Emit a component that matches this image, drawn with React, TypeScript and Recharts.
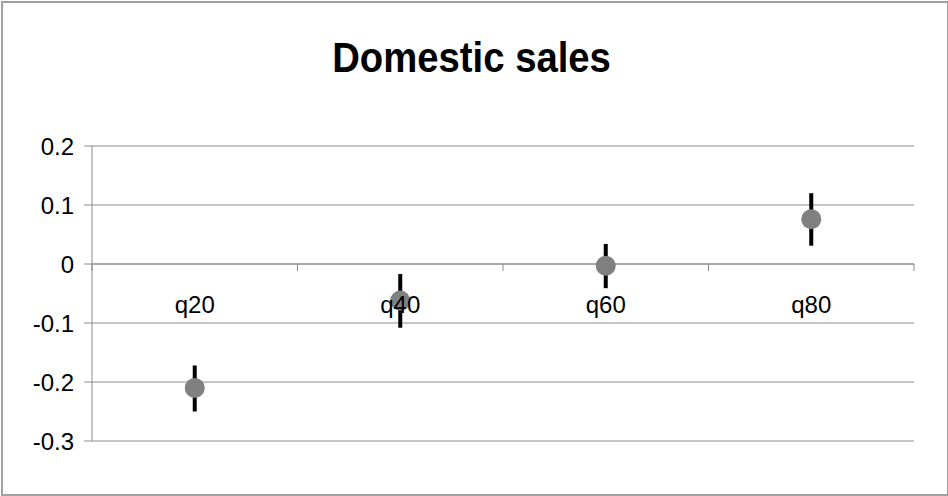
import React from 'react';
import {
  ComposedChart, Scatter, XAxis, YAxis, CartesianGrid, ReferenceLine, ErrorBar,
} from 'recharts';

const categories = ['q20', 'q40', 'q60', 'q80'];
const estimates = [-0.21, -0.062, -0.003, 0.076];
const errLow = [0.04, 0.046, 0.038, 0.045];
const errHigh = [0.038, 0.045, 0.037, 0.044];
const yTicks = [-0.3, -0.2, -0.1, 0, 0.1, 0.2];

const data = categories.map((name, i) => ({
  name,
  value: estimates[i],
  err: [errLow[i], errHigh[i]],
}));

const W = 948;
const H = 496;
const X_AXIS_H = 1;
const M = { top: 146, right: 34, bottom: 55 - X_AXIS_H, left: 32 };
const Y_AXIS_W = 60;
const PLOT_H = H - M.top - M.bottom - X_AXIS_H;
const PLOT_W = W - M.left - Y_AXIS_W - M.right;
const Y_MIN = -0.3;
const Y_MAX = 0.2;
const ZERO_Y = M.top + PLOT_H * (Y_MAX / (Y_MAX - Y_MIN));
const BAND = PLOT_W / categories.length;
const FONT = '"Liberation Sans", Arial, sans-serif';

const CategoryTick = (props: any) => {
  const { x, index } = props;
  const last = index === categories.length - 1;
  return (
    <g>
      <line x1={x - BAND / 2} x2={x - BAND / 2} y1={ZERO_Y} y2={ZERO_Y + 7} stroke="#8c8c8c" />
      {last && <line x1={x + BAND / 2} x2={x + BAND / 2} y1={ZERO_Y} y2={ZERO_Y + 7} stroke="#8c8c8c" />}
      <text x={x} y={ZERO_Y + 40} textAnchor="middle" dominantBaseline="central"
        fontSize={24} fontFamily={FONT} fill="#000">
        {props.payload.value}
      </text>
    </g>
  );
};

const Dot = (props: any) => <circle cx={props.cx} cy={props.cy} r={10} fill="#808080" />;

export default function App() {
  return (
    <div style={{ position: 'fixed', left: 0, top: 0, width: W, height: H, background: '#fff' }}>
      <div style={{
        position: 'absolute', left: 1, top: 1, width: W - 4, height: H - 5,
        border: '2px solid #a0a0a0', boxSizing: 'content-box',
      }} />
      <div style={{
        position: 'absolute', left: 0, top: 34, width: W - 4, textAlign: 'center',
        fontFamily: FONT, fontWeight: 'bold', fontSize: 43, lineHeight: '46px', color: '#000',
      }}>
        <span style={{ display: 'inline-block', transform: 'scaleX(0.89)' }}>Domestic sales</span>
      </div>
      <div style={{ position: 'absolute', left: 0, top: 0 }}>
        <ComposedChart width={W} height={H} data={data} margin={M}>
          <CartesianGrid vertical={false} stroke="#8c8c8c" />
          <YAxis
            type="number"
            domain={[Y_MIN, Y_MAX]}
            ticks={yTicks}
            width={Y_AXIS_W}
            interval={0}
            axisLine={{ stroke: '#8c8c8c' }}
            tickLine={{ stroke: '#8c8c8c' }}
            tickSize={8}
            tickMargin={10}
            tick={{ fontSize: 24, fontFamily: FONT, fill: '#000' }}
          />
          <ReferenceLine y={0} stroke="#8c8c8c" />
          <Scatter dataKey="value" shape={<Dot />} isAnimationActive={false}>
            <ErrorBar dataKey="err" direction="y" width={0} strokeWidth={4} stroke="#000" />
          </Scatter>
          <XAxis
            dataKey="name"
            type="category"
            scale="band"
            height={X_AXIS_H}
            axisLine={false}
            tickLine={false}
            interval={0}
            tick={<CategoryTick />}
          />
        </ComposedChart>
      </div>
    </div>
  );
}
